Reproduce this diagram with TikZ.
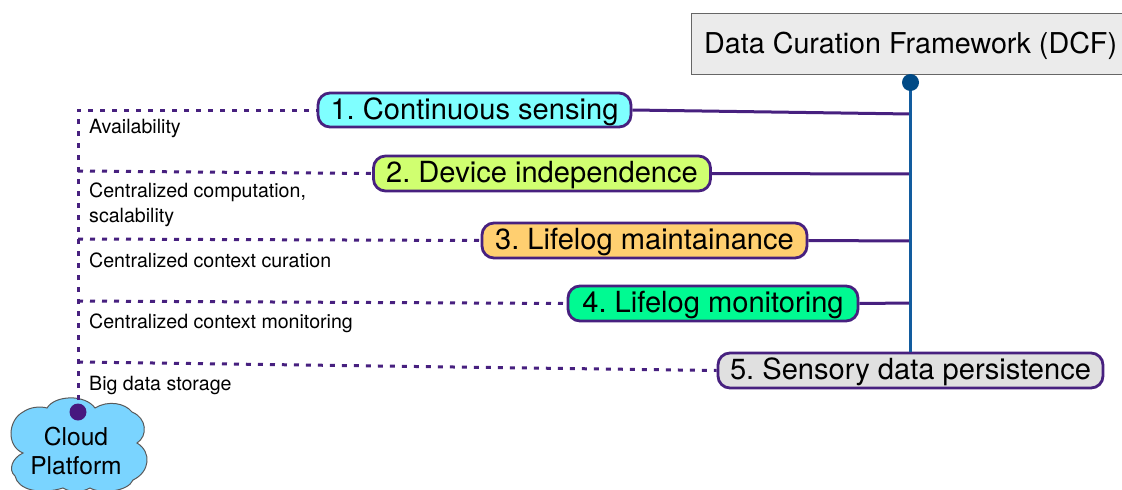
\documentclass[tikz,border=0pt]{standalone}
\usepackage{fontspec}
\setmainfont{TeX Gyre Heros}
\definecolor{purp}{HTML}{47207F}
\definecolor{trunkblue}{HTML}{125C9F}
\definecolor{dotblue}{HTML}{004A86}
\definecolor{dotpurp}{HTML}{47187F}
\definecolor{cloudfill}{HTML}{7AD4FF}
\definecolor{fillone}{HTML}{7FFFFF}
\definecolor{filltwo}{HTML}{D0FF70}
\definecolor{fillthree}{HTML}{FFCF70}
\definecolor{fillfour}{HTML}{00FA92}
\definecolor{fillfive}{HTML}{E0E0E0}
\tikzset{
 item/.style={draw=purp,line width=2.8pt,rounded corners=12pt,inner sep=0pt,text height=21pt,text depth=2.4pt,font=\fontsize{29.1}{30}\selectfont\frenchspacing},
 lab/.style={anchor=west,inner sep=0pt,font=\fontsize{19.6}{25}\selectfont,align=left},
 solidline/.style={draw=purp,line width=3pt},
 dotline/.style={draw=purp,line width=3pt,dash pattern=on 5pt off 7pt},
 trunk/.style={draw=trunkblue,line width=3pt},
}
\begin{document}
\begin{tikzpicture}[x=1pt,y=-1pt]
\useasboundingbox (0,0) rectangle (1122,490);
\clip (0,0) rectangle (1122,490);
% cloud
\path[draw=black!65,line width=1pt,fill=cloudfill]
 (47,408) .. controls (55,395) and (85,394) .. (95,408)
 .. controls (108,400) and (125,403) .. (132,412)
 .. controls (147,418) and (148,436) .. (137,443)
 .. controls (152,452) and (150,472) .. (133,480)
 .. controls (128,492) and (100,494) .. (90,488)
 .. controls (80,493) and (72,493) .. (63,488)
 .. controls (40,495) and (18,490) .. (15,476)
 .. controls (8,470) and (12,458) .. (23,453)
 .. controls (6,446) and (8,420) .. (23,412)
 .. controls (30,407) and (40,406) .. (47,408) -- cycle;
\node[inner sep=0pt,align=center,font=\fontsize{24.6}{29}\selectfont] (cloud) at (76,451) {Cloud\\Platform};
% main nodes
\node[draw=black!60,line width=1pt,fill=black!8,minimum width=440pt,minimum height=61pt,inner sep=0pt] (dcf) at (911,43.5) {};
\node[anchor=base west,inner sep=0pt,font=\fontsize{28.7}{30}\selectfont] (dcftext) at (704,53.5) {Data Curation Framework (DCF)};
\coordinate (dcfdot) at (910.5,82.5);
\coordinate (clouddot) at (78,412);
\node[item,fill=fillone,minimum width=313pt,minimum height=34pt] (n1) at (474.5,110) {1. Continuous sensing};
\node[item,fill=filltwo,minimum width=337pt,minimum height=35pt] (n2) at (542,173.5) {2. Device independence};
\node[item,fill=fillthree,minimum width=325pt,minimum height=35pt] (n3) at (644.5,240.5) {3. Lifelog maintainance};
\node[item,fill=fillfour,minimum width=290pt,minimum height=35pt] (n4) at (713,303.5) {4. Lifelog monitoring};
\node[item,fill=fillfive,minimum width=385pt,minimum height=35pt] (n5) at (910.5,370.5) {5. Sensory data persistence};
% junctions
\coordinate (t1) at (910.5,114);
\coordinate (t2) at (910.5,174);
\coordinate (t3) at (910.5,241);
\coordinate (t4) at (910.5,303);
\coordinate (d1) at (78,110);
\coordinate (d2) at (78,171);
\coordinate (d3) at (78,239);
\coordinate (d4) at (78,301);
\coordinate (d5) at (78,362);
% connectors
\draw[solidline] (n1.east) -- (t1);
\draw[solidline] (n2.east) -- (t2);
\draw[solidline] (n3.east) -- (t3);
\draw[solidline] (n4.east) -- (t4);
\draw[trunk] (dcfdot) -- (n5.north -| dcfdot);
\fill[dotblue] (dcfdot) circle (8.5);
\draw[dotline] (clouddot) -- (d1) -- (n1.west);
\draw[dotline] (d2) -- (n2.west);
\draw[dotline] (d3) -- (n3.west);
\draw[dotline] (d4) -- (n4.west);
\draw[dotline] (d5) -- (n5.west);
\fill[dotpurp] (clouddot) circle (8.5);
% labels
\node[lab] (l1) at (89,128) {Availability};
\node[lab] (l2) at (89,205) {Centralized computation,\\scalability};
\node[lab] (l3) at (89,260.5) {Centralized context curation};
\node[lab] (l4) at (89,323) {Centralized context monitoring};
\node[lab] (l5) at (89,385.5) {Big data storage};
\end{tikzpicture}
\end{document}
